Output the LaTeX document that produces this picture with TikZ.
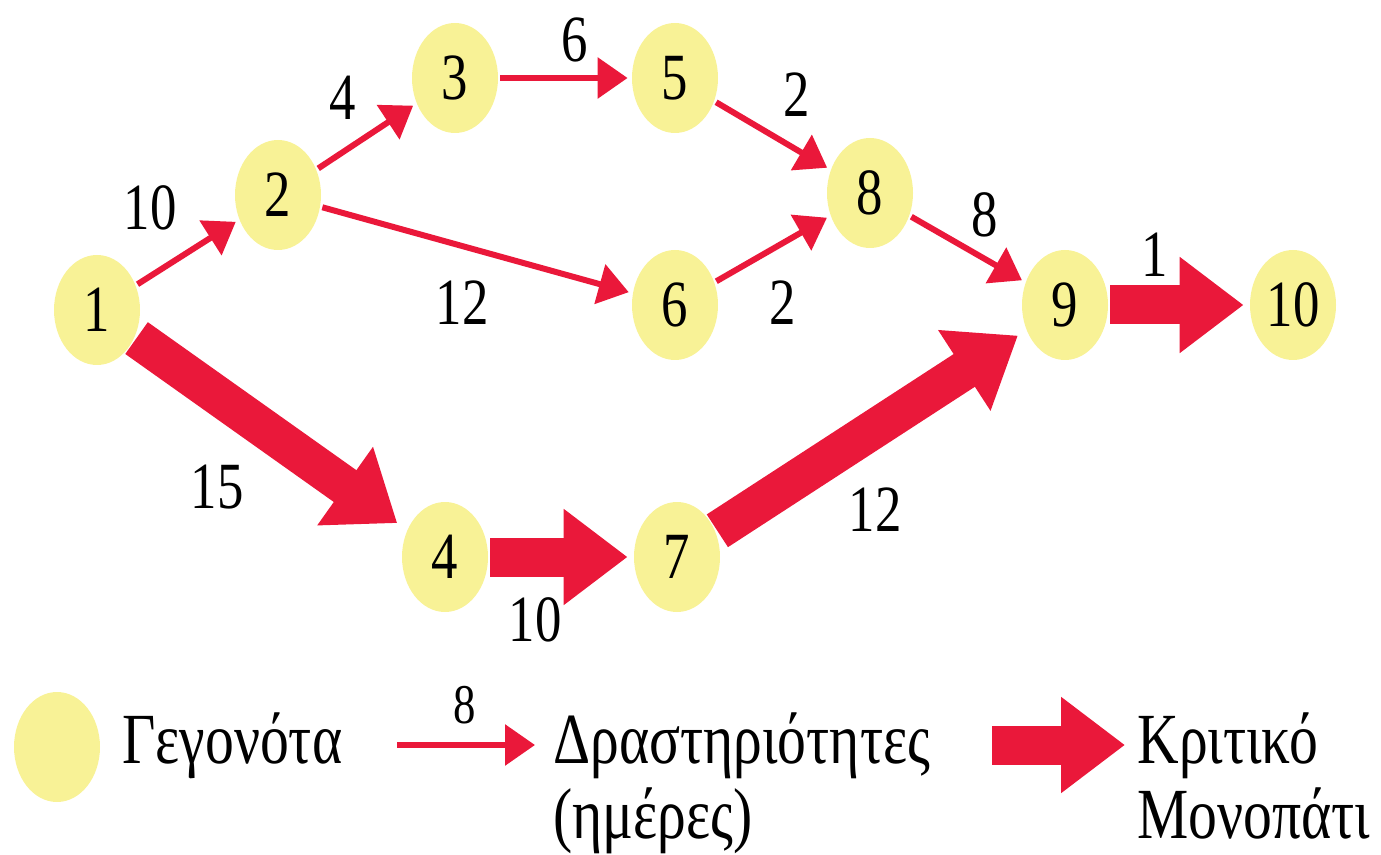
\documentclass[tikz,border=0pt]{standalone}
\usepackage{fontspec}
\setmainfont{Liberation Serif}[FakeStretch=0.8]
\usetikzlibrary{arrows.meta,shapes.geometric}
\definecolor{evy}{RGB}{248,242,150}
\definecolor{actred}{RGB}{234,24,58}
\begin{document}
\begin{tikzpicture}[x=0.5pt,y=-0.5pt,
  event/.style={ellipse, fill=evy, minimum width=43pt, minimum height=55pt, inner sep=0pt, font=\fontsize{33}{36}\selectfont},
  act/.style={draw=actred, line width=3pt, -{Triangle[width=20pt,length=15pt]}, shorten <=1pt},
  crit/.style={draw=actred, line width=19.5pt, -{Triangle[width=46pt,length=32pt]}, shorten <=1pt},
  lbl/.style={font=\fontsize{33}{36}\selectfont, inner sep=0pt},
  leg/.style={font=\fontsize{36}{40}\selectfont, inner sep=0pt, anchor=base west},
]
\useasboundingbox (0,0) rectangle (1381,855);
% events
\node[event] (n1) at (97,310) {1};
\node[event] (n2) at (278,195) {2};
\node[event] (n3) at (455,78) {3};
\node[event] (n5) at (675,78) {5};
\node[event] (n8) at (870,193) {8};
\node[event] (n6) at (675,305) {6};
\node[event] (n9) at (1065,305) {9};
\node[event] (n10) at (1293,305) {10};
\node[event] (n4) at (445,557) {4};
\node[event] (n7) at (677,557) {7};
% activities
\draw[act, shorten >=2pt] (n1) -- (n2);
\draw[act, shorten >=2pt] (n2) -- (n3);
\draw[act, shorten >=2pt] (n3) -- (n5);
\draw[act, shorten >=2pt] (n5) -- (n8);
\draw[act, shorten >=2pt] (n2) -- (n6);
\draw[act, shorten >=2pt] (n6) -- (n8);
\draw[act, shorten >=2pt] (n8) -- (n9);
% critical path
\draw[crit, shorten >=6pt] (n1) -- (n4);
\draw[crit, shorten >=3pt] (n4) -- (n7);
\draw[crit, shorten >=5pt] (n7) -- (n9);
\draw[crit, shorten >=3pt] (n9) -- (n10);
% labels
\node[lbl] (l12) at (150,208) {10};
\node[lbl] (l23) at (343,98) {4};
\node[lbl] (l35) at (575,40) {6};
\node[lbl] (l58) at (797,95) {2};
\node[lbl] (l26) at (462,303) {12};
\node[lbl] (l68) at (783,303) {2};
\node[lbl] (l89) at (985,215) {8};
\node[lbl] (l910) at (1155,255) {1};
\node[lbl] (l14) at (217,487) {15};
\node[lbl] (l47) at (535,620) {10};
\node[lbl] (l79) at (875,510) {12};
% legend
\node[event] (le) at (57,747) {};
\node[leg] (t1) at (122,763) {Γεγονότα};
\coordinate (a1) at (395,745);
\coordinate (a2) at (535,745);
\draw[act] (a1) -- (a2);
\node[lbl, font=\fontsize{28}{30}\selectfont] (l8) at (465,705) {8};
\node[leg] (t2) at (553,763) {Δραστηριότητες};
\node[leg] (t3) at (553,838) {(ημέρες)};
\coordinate (b1) at (990,745);
\coordinate (b2) at (1125,745);
\draw[crit] (b1) -- (b2);
\node[leg] (t4) at (1137,763) {Κριτικό};
\node[leg] (t5) at (1137,838) {Μονοπάτι};
\end{tikzpicture}
\end{document}
